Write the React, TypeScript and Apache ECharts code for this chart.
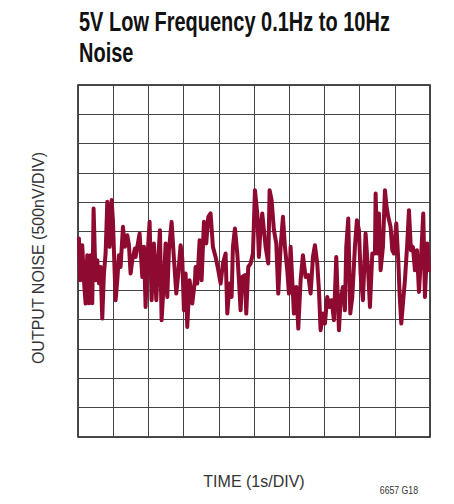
import React, { useEffect, useRef } from "react";
import * as echarts from "echarts";

// Time in seconds (1 s/div), output noise in µV (0.5 µV = 500 nV per div)
const timeS: number[] = [
  0.026, 0.064, 0.121, 0.169, 0.216, 0.263, 0.311, 0.358, 0.405, 0.443, 0.5, 0.547, 0.595, 0.642, 0.689, 0.737,
  0.784, 0.832, 0.898, 0.955, 0.992, 1.068, 1.116, 1.163, 1.21, 1.277, 1.333, 1.4, 1.447, 1.494, 1.542, 1.617,
  1.636, 1.684, 1.75, 1.826, 1.873, 1.92, 1.968, 2.034, 2.091, 2.157, 2.224, 2.271, 2.328, 2.375, 2.441, 2.489,
  2.536, 2.583, 2.659, 2.725, 2.792, 2.849, 2.915, 2.962, 3.009, 3.057, 3.104, 3.17, 3.246, 3.322,
  3.341, 3.388, 3.455, 3.511, 3.578, 3.644, 3.701, 3.767, 3.833, 3.909, 3.985, 4.051, 4.117, 4.193, 4.241, 4.307,
  4.364, 4.401, 4.458, 4.525, 4.572, 4.619, 4.667, 4.742, 4.78, 4.837, 4.903, 4.97, 5.027,
  5.093, 5.14, 5.188, 5.235, 5.282, 5.33, 5.405, 5.443, 5.5, 5.566, 5.633, 5.689, 5.756, 5.822, 5.879, 5.945,
  5.992, 6.04, 6.087, 6.134, 6.201, 6.258, 6.324, 6.39, 6.466, 6.542, 6.608, 6.675, 6.731,
  6.797, 6.845, 6.892, 6.958, 7.015, 7.081, 7.148, 7.205, 7.271, 7.337, 7.413, 7.46, 7.527, 7.583, 7.621, 7.678,
  7.735, 7.792, 7.867, 7.924, 7.981, 8.028, 8.095, 8.17, 8.246, 8.294, 8.36, 8.436,
  8.455, 8.502, 8.549, 8.597, 8.663, 8.72, 8.767, 8.814, 8.881, 8.928, 8.975, 9.042, 9.099, 9.136, 9.184, 9.231,
  9.288, 9.354, 9.402, 9.458, 9.515, 9.572, 9.629, 9.686, 9.752, 9.809, 9.856, 9.922, 9.97,
];

const noiseUV: number[] = [
  0.384, -0.328, 0.27, -0.328, -0.725, 0.099, -0.72, 0.099, -0.72, 0.896, -0.328, 0.014, -0.379, -0.101, -0.981, -0.213,
  0.128, 1.009, 0.241, 1.038, 0.696, -0.669, -0.328, 0.099, -0.101, 0.582, 0.241, 0.44, 0.27, -0.213, 0.014, 0.213,
  0.07, 0.241, 0.469, -0.271, 0.241, -0.783, 0.014, 0.667, -0.669, 0.299, -0.669, -0.043, 0.526, -1.01, -0.328, 0.299,
  -0.613, 0.184, 0.667, 0.043, -0.555, -0.213, 0.27, 0.043, -0.84, -0.213, -1.125, -0.328, -0.725, -0.328,
  -0.101, -0.384, 0.355, -0.328, 0.667, 0.299, 0.753, 0.811, 0.241, 0.07, -0.157, -0.384, -0.043, 0.128, -0.896, -0.384,
  -0.613, 0.241, 0.555, 0.128, -0.328, -0.84, -0.271, -0.242, -0.896, -0.101, -0.043, 0.128, 1.208,
  0.811, 0.07, 0.582, 0.811, 0.526, 0.241, -0.043, 1.208, 1.038, 0.526, 0.299, -0.555, 0.241, 0.753, 0.241, -0.157,
  -0.555, 0.241, -0.328, -0.896, -0.442, -1.152, -0.328, 0.099, -0.271, -0.242, -0.555, 0.07, 0.27,
  -0.043, -0.498, -1.181, -0.896, -1.067, -0.613, -0.783, -0.669, -1.01, 0.07, -1.181, -0.669, -0.442, -0.84, 0.241, 0.725,
  -0.896, -0.613, 0.241, 0.696, 0.526, -0.213, -0.669, 0.469, -0.213, -0.783, 0.128, 0.128,
  1.152, 0.128, 0.811, -0.157, 0.241, 1.208, 0.923, 0.753, 0.582, 0.184, 0.128, 0.64, 0.014, -0.555, -1.067, -0.725,
  -0.328, 0.299, 0.867, 0.184, 0.241, -0.157, 0.184, -0.527, 0.128, 0.811, -0.613, 0.299, -0.157,
];

const titleLines: string[] = ["5V Low Frequency 0.1Hz to 10Hz", "Noise"];
const xAxisTitle = "TIME (1s/DIV)";
const yAxisTitle = "OUTPUT NOISE (500nV/DIV)";
const figureId = "6657 G18";

export default function App() {
  const ref = useRef<HTMLDivElement>(null);

  useEffect(() => {
    if (!ref.current) return;
    const chart = echarts.init(ref.current, undefined, { renderer: "svg" });
    const data = timeS.map((t, i) => [t, noiseUV[i]]);
    const sans = "'Liberation Sans', Arial, Helvetica, sans-serif";
    chart.setOption({
      animation: false,
      backgroundColor: "#ffffff",
      grid: {
        left: 78,
        top: 85,
        width: 352,
        height: 352,
        show: true,
        borderColor: "#111111",
        borderWidth: 1.5,
        backgroundColor: "transparent",
      },
      xAxis: {
        type: "value",
        min: 0,
        max: 10,
        interval: 1,
        axisLine: { show: false },
        axisTick: { show: false },
        axisLabel: { show: false },
        splitLine: { show: true, lineStyle: { color: "#444444", width: 1 } },
      },
      yAxis: {
        type: "value",
        min: -3,
        max: 3,
        interval: 0.5,
        axisLine: { show: false },
        axisTick: { show: false },
        axisLabel: { show: false },
        splitLine: { show: true, lineStyle: { color: "#444444", width: 1 } },
      },
      graphic: [
        {
          type: "text",
          x: 79,
          y: 8,
          scaleX: 0.74,
          style: {
            text: titleLines[0],
            font: `bold 27px ${sans}`,
            fill: "#111111",
            textAlign: "left",
            textVerticalAlign: "top",
          },
        },
        {
          type: "text",
          x: 79,
          y: 39,
          scaleX: 0.74,
          style: {
            text: titleLines[1],
            font: `bold 27px ${sans}`,
            fill: "#111111",
            textAlign: "left",
            textVerticalAlign: "top",
          },
        },
        {
          type: "text",
          x: 38,
          y: 258,
          rotation: Math.PI / 2,
          style: {
            text: yAxisTitle,
            font: `16px ${sans}`,
            fill: "#333333",
            textAlign: "center",
            textVerticalAlign: "middle",
          },
        },
        {
          type: "text",
          x: 254,
          y: 481,
          style: {
            text: xAxisTitle,
            font: `16px ${sans}`,
            fill: "#333333",
            textAlign: "center",
            textVerticalAlign: "middle",
          },
        },
        {
          type: "text",
          x: 418,
          y: 491,
          scaleX: 0.87,
          style: {
            text: figureId,
            font: `10px ${sans}`,
            fill: "#333333",
            textAlign: "right",
            textVerticalAlign: "middle",
          },
        },
      ],
      series: [
        {
          type: "line",
          data,
          showSymbol: false,
          symbol: "none",
          lineStyle: { color: "#8f0a30", width: 4, join: "round", cap: "round" },
          clip: true,
        },
      ],
    });
    return () => chart.dispose();
  }, []);

  return (
    <div
      ref={ref}
      style={{ position: "fixed", left: 0, top: 0, width: 454, height: 504, background: "#fff" }}
    />
  );
}
